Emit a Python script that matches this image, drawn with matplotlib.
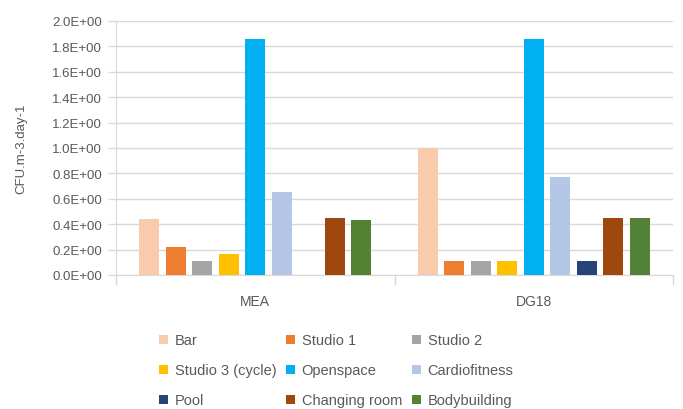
import numpy as np
import matplotlib
matplotlib.use("Agg")
import matplotlib.pyplot as plt
from matplotlib.ticker import FuncFormatter, MultipleLocator

# Data
categories = ["MEA", "DG18"]
series = ["Bar", "Studio 1", "Studio 2", "Studio 3 (cycle)", "Openspace",
          "Cardiofitness", "Pool", "Changing room", "Bodybuilding"]
mea = [0.44, 0.22, 0.11, 0.165, 1.86, 0.65, 0.0, 0.445, 0.435]
dg18 = [1.0, 0.11, 0.11, 0.11, 1.86, 0.775, 0.11, 0.445, 0.445]
colors = ["#F8CBAD", "#ED7D31", "#A5A5A5", "#FFC000", "#00B0F0",
          "#B4C7E7", "#264478", "#9E480E", "#548235"]

TEXT = "#595959"
GRID = "#D9D9D9"
plt.rcParams["font.family"] = ["Liberation Sans", "DejaVu Sans"]

fig = plt.figure(figsize=(6.83, 4.10), dpi=100)
ax = fig.add_axes([116 / 683, 1 - 276 / 410, (673 - 116) / 683, (276 - 22) / 410])

x = np.arange(len(categories))
pitch = 26.5 / 278.5
width = 20 / 278.5
values = np.array([mea, dg18])
bars = []
for i, name in enumerate(series):
    b = ax.bar(x + (i - 4) * pitch, values[:, i], width=width, color=colors[i],
               label=name, zorder=3)
    bars.append(b)

ax.set_xlim(-0.5, 1.5)
ax.set_ylim(0, 2.0)
ax.yaxis.set_major_locator(MultipleLocator(0.2))
# Excel style: mantissa always with exponent +00
ax.yaxis.set_major_formatter(FuncFormatter(lambda v, _: f"{abs(v):.1f}E+00"))
ax.grid(axis="y", color=GRID, linewidth=1, zorder=0)

ax.set_xticks(x)
ax.set_xticklabels(categories)
ax.set_xticks([-0.5, 0.5, 1.5], minor=True)
ax.tick_params(axis="x", which="major", length=0, pad=14, labelsize=10, labelcolor=TEXT)
ax.tick_params(axis="x", which="minor", length=7, color=GRID, width=1)
ax.tick_params(axis="y", length=6, color=GRID, width=1, labelsize=9.5, labelcolor=TEXT, pad=4)

for side in ["top", "right"]:
    ax.spines[side].set_visible(False)
ax.spines["left"].set_color(GRID)
ax.spines["bottom"].set_color(GRID)

ax.set_ylabel("CFU.m-3.day-1", color=TEXT, fontsize=9.5, labelpad=18)

# legend fills row by row (3 per row) like the reference
order = [0, 3, 6, 1, 4, 7, 2, 5, 8]
fig.legend([bars[i] for i in order], [series[i] for i in order],
           loc="upper left", bbox_to_anchor=(152 / 683, 1 - 327 / 410), ncol=3,
           frameon=False, fontsize=10.5, labelcolor=TEXT, borderpad=0,
           handlelength=0.6, handleheight=0.6, handletextpad=0.45,
           columnspacing=0.7, labelspacing=1.1)

fig.savefig("out.png", dpi=100)
